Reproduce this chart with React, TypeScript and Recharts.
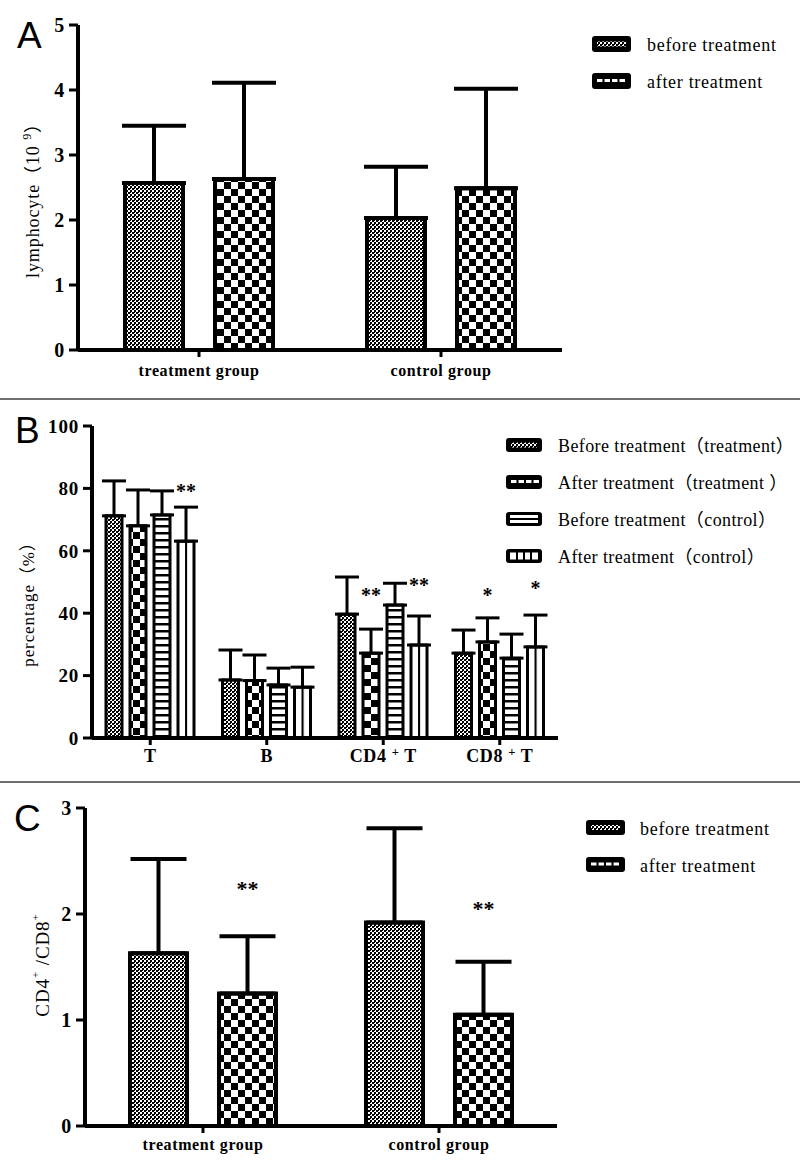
import React from 'react';
import { Bar, BarChart, ErrorBar, LabelList, Legend, XAxis, YAxis } from 'recharts';

const SERIF = '"Liberation Serif", "Times New Roman", "Noto Sans CJK SC", serif';
const SANS = '"Liberation Sans", Arial, sans-serif';

// A: lymphocyte counts (10^9)
const groupsA = ['treatment group', 'control group'];
const lymphBefore = [2.57, 2.03];
const lymphBeforeErr = [0.88, 0.79];
const lymphAfter = [2.63, 2.49];
const lymphAfterErr = [1.48, 1.53];
const ticksA = [0, 1, 2, 3, 4, 5];

// B: lymphocyte subsets (%)
const cellTypes = ['T', 'B', 'CD4+T', 'CD8+T'];
const beforeTreat = [71.2, 18.6, 39.7, 27.2];
const beforeTreatErr = [11.2, 9.6, 11.9, 7.4];
const afterTreat = [68.0, 18.4, 27.2, 30.8];
const afterTreatErr = [11.5, 8.2, 7.7, 7.7];
const beforeCtrl = [71.5, 17.0, 42.6, 25.6];
const beforeCtrlErr = [7.7, 5.4, 7.0, 7.7];
const afterCtrl = [63.1, 16.3, 29.8, 29.2];
const afterCtrlErr = [10.9, 6.4, 9.3, 10.2];
const sigAfterTreat = ['', '', '**', '*'];
const sigAfterTreatPos = [0, 0, 46.5, 46.5];
const sigAfterCtrl = ['**', '', '**', '*'];
const sigAfterCtrlPos = [79.8, 0, 49.7, 48.7];
const ticksB = [0, 20, 40, 60, 80, 100];

// C: CD4+/CD8+ ratio
const groupsC = ['treatment group', 'control group'];
const ratioBefore = [1.63, 1.92];
const ratioBeforeErr = [0.89, 0.89];
const ratioAfter = [1.25, 1.05];
const ratioAfterErr = [0.54, 0.5];
const sigRatioAfter = ['**', '**'];
const sigRatioAfterPos = [2.27, 2.08];
const ticksC = [0, 1, 2, 3];

const legendA = [
  { kind: 'fine', label: 'before treatment' },
  { kind: 'checker', label: 'after treatment' },
];
const legendB = [
  { kind: 'fine', label: 'Before treatment（treatment）' },
  { kind: 'checker', label: 'After treatment（treatment ）' },
  { kind: 'hstripe', label: 'Before treatment（control）' },
  { kind: 'vstripe', label: 'After treatment（control）' },
];

const dataA = groupsA.map((name, i) => ({
  name,
  before: lymphBefore[i],
  beforeErr: [0, lymphBeforeErr[i]],
  after: lymphAfter[i],
  afterErr: [0, lymphAfterErr[i]],
}));

const dataB = cellTypes.map((name, i) => ({
  name,
  bt: beforeTreat[i],
  btErr: [0, beforeTreatErr[i]],
  at: afterTreat[i],
  atErr: [0, afterTreatErr[i]],
  atSig: sigAfterTreat[i],
  bc: beforeCtrl[i],
  bcErr: [0, beforeCtrlErr[i]],
  ac: afterCtrl[i],
  acErr: [0, afterCtrlErr[i]],
  acSig: sigAfterCtrl[i],
}));

const dataC = groupsC.map((name, i) => ({
  name,
  before: ratioBefore[i],
  beforeErr: [0, ratioBeforeErr[i]],
  after: ratioAfter[i],
  afterErr: [0, ratioAfterErr[i]],
  afterSig: sigRatioAfter[i],
}));

const fills: Record<string, string> = {
  fine: 'url(#pat-fine)',
  checker: 'url(#pat-checker)',
  hstripe: 'url(#pat-hstripe)',
  vstripe: 'url(#pat-vstripe)',
};

const Patterns = () => (
  <svg width={0} height={0} style={{ position: 'absolute' }}>
    <defs>
      <pattern id="pat-fine" width={4} height={4} patternUnits="userSpaceOnUse">
        <rect width={4} height={4} fill="#fff" />
        <rect width={2} height={2} fill="#000" />
        <rect x={2} y={2} width={2} height={2} fill="#000" />
        <rect x={2} y={0} width={1} height={1} fill="#000" />
      </pattern>
      <pattern id="pat-checker" width={14} height={14} patternUnits="userSpaceOnUse">
        <rect width={14} height={14} fill="#fff" />
        <rect width={7} height={7} fill="#000" />
        <rect x={7} y={7} width={7} height={7} fill="#000" />
      </pattern>
      <pattern id="pat-hstripe" width={7} height={7} patternUnits="userSpaceOnUse">
        <rect width={7} height={7} fill="#fff" />
        <rect width={7} height={2.5} fill="#000" />
      </pattern>
      <pattern id="pat-vstripe" width={1} height={1} patternUnits="objectBoundingBox" patternContentUnits="objectBoundingBox">
        <rect width={1} height={1} fill="#fff" />
        <rect x={0.44} width={0.13} height={1} fill="#000" />
      </pattern>
    </defs>
  </svg>
);

const Swatch = ({ kind, w, h }: { kind: string; w: number; h: number }) => {
  const inner = [];
  if (kind === 'fine') {
    inner.push(<rect key="f" x={5} y={h / 2 - 2.5} width={w - 10} height={5} fill="url(#pat-fine)" />);
  } else if (kind === 'checker') {
    for (let i = 0; i < 4; i++) {
      inner.push(<rect key={i} x={5 + i * 7.5} y={h / 2 - 2} width={5.5} height={3} fill="#fff" />);
    }
  } else if (kind === 'hstripe') {
    inner.push(<rect key="w" x={4} y={3} width={w - 8} height={h - 6} fill="#fff" />);
    inner.push(<rect key="l" x={4} y={h / 2 - 1} width={w - 8} height={2} fill="#000" />);
  } else {
    inner.push(<rect key="w" x={4} y={3.5} width={w - 8} height={h - 7} fill="#fff" />);
    for (let i = 1; i < 4; i++) {
      inner.push(<rect key={i} x={4 + (i * (w - 8)) / 4 - 1} y={3} width={2} height={h - 6} fill="#000" />);
    }
  }
  return (
    <g>
      <rect width={w} height={h} rx={3} fill="#000" />
      {inner}
    </g>
  );
};

const LegendBox = ({ items, gap, sw, sh, textX, base, fontSize, spacing }: any) => (
  <svg width={260} height={gap * items.length + 10} style={{ overflow: 'visible' }}>
    {items.map((it: any, i: number) => (
      <g key={it.label} transform={`translate(0, ${i * gap})`}>
        <Swatch kind={it.kind} w={sw} h={sh} />
        <text x={textX} y={base} fontFamily={SERIF} fontSize={fontSize} fill="#000" letterSpacing={spacing}>
          {it.label}
        </text>
      </g>
    ))}
  </svg>
);

const CatTick = (props: any) => {
  const { x, y, payload, fontSize } = props;
  const label = String(payload.value);
  const parts = label.split('+');
  return (
    <text x={x} y={y} dy="0.71em" textAnchor="middle" fontFamily={SERIF} fontWeight="bold" fontSize={fontSize} fill="#000" letterSpacing={0.6}>
      {parts.length === 2 ? (
        <>
          <tspan>{parts[0]} </tspan>
          <tspan dy={-6} fontSize={fontSize * 0.7}>+</tspan>
          <tspan dy={6}> {parts[1]}</tspan>
        </>
      ) : (
        label
      )}
    </text>
  );
};

const SigLabel = (props: any) => {
  const vb = props.viewBox ?? props;
  const { x, y, width, height } = vb;
  const { value, index, pos, vals, fontSize } = props;
  if (!value) return null;
  const base = y + height;
  const k = height / vals[index];
  const cy = base - pos[index] * k;
  return (
    <text x={x + width / 2} y={cy + fontSize * 0.47} textAnchor="middle" fontFamily={SERIF} fontWeight="bold" fontSize={fontSize} fill="#000">
      {value}
    </text>
  );
};

const AxisTitle = ({ cx, cy, fontSize, children }: any) => (
  <text
    x={cx}
    y={cy}
    transform={`rotate(-90, ${cx}, ${cy})`}
    textAnchor="middle"
    dominantBaseline="central"
    fontFamily={SERIF}
    fontSize={fontSize}
    fill="#000"
    letterSpacing={0.9}
  >
    {children}
  </text>
);

const yTick = (fontSize: number) => ({ fontFamily: SERIF, fontWeight: 'bold', fontSize, fill: '#000', letterSpacing: 0.8 });
const axisLine = { stroke: '#000', strokeWidth: 4 };
const tickLine = { stroke: '#000', strokeWidth: 3 };

export default function App() {
  return (
    <div style={{ position: 'absolute', left: 0, top: 0, width: 800, height: 1175, background: '#fff', overflow: 'hidden' }}>
      <Patterns />

      {/* A */}
      <div style={{ position: 'absolute', left: 0, top: 0 }}>
        <BarChart width={800} height={399} data={dataA} barGap={32} margin={{ top: 25, right: 238, bottom: 19, left: 18 }}>
          <XAxis dataKey="name" height={30} axisLine={axisLine} tickLine={tickLine} tickSize={7} tickMargin={8} tick={<CatTick fontSize={16} />} interval={0} />
          <YAxis
            width={60}
            domain={[0, 5]}
            ticks={ticksA}
            interval={0}
            axisLine={axisLine}
            tickLine={tickLine}
            tickSize={9}
            tickMargin={4}
            tick={yTick(20)}
            label={
              <AxisTitle cx={33} cy={196} fontSize={18}>
                lymphocyte（10 <tspan dy={-6} fontSize={12}>9</tspan>
                <tspan dy={6}>）</tspan>
              </AxisTitle>
            }
          />
          <Legend
            verticalAlign="middle"
            wrapperStyle={{ left: 592, top: 36, width: 260 }}
            content={() => <LegendBox items={legendA} gap={37} sw={39} sh={16} textX={55} base={15} fontSize={18} spacing={0.7} />}
          />
          <Bar dataKey="before" fill={fills.fine} stroke="#000" strokeWidth={4} barSize={58} isAnimationActive={false}>
            <ErrorBar dataKey="beforeErr" direction="y" width={32} stroke="#000" strokeWidth={4} />
          </Bar>
          <Bar dataKey="after" fill={fills.checker} stroke="#000" strokeWidth={4} barSize={58} isAnimationActive={false}>
            <ErrorBar dataKey="afterErr" direction="y" width={32} stroke="#000" strokeWidth={4} />
          </Bar>
        </BarChart>
      </div>

      {/* B */}
      <div style={{ position: 'absolute', left: 0, top: 399 }}>
        <BarChart width={800} height={383} data={dataB} barGap={8} margin={{ top: 27, right: 242, bottom: 14, left: 32 }}>
          <XAxis dataKey="name" height={30} axisLine={axisLine} tickLine={tickLine} tickSize={7} tickMargin={4} tick={<CatTick fontSize={18} />} interval={0} />
          <YAxis
            width={60}
            domain={[0, 100]}
            ticks={ticksB}
            interval={0}
            axisLine={axisLine}
            tickLine={tickLine}
            tickSize={9}
            tickMargin={4}
            tick={yTick(19)}
            label={<AxisTitle cx={28} cy={201} fontSize={17}>percentage（%）</AxisTitle>}
          />
          <Legend
            verticalAlign="middle"
            wrapperStyle={{ left: 506, top: 39, width: 290 }}
            content={() => <LegendBox items={legendB} gap={37} sw={36} sh={14} textX={52} base={14} fontSize={18} spacing={0.4} />}
          />
          <Bar dataKey="bt" fill={fills.fine} stroke="#000" strokeWidth={3} barSize={16} isAnimationActive={false}>
            <ErrorBar dataKey="btErr" direction="y" width={12} stroke="#000" strokeWidth={3} />
          </Bar>
          <Bar dataKey="at" fill={fills.checker} stroke="#000" strokeWidth={3} barSize={16} isAnimationActive={false}>
            <ErrorBar dataKey="atErr" direction="y" width={12} stroke="#000" strokeWidth={3} />
            <LabelList dataKey="atSig" content={<SigLabel pos={sigAfterTreatPos} vals={afterTreat} fontSize={20} />} />
          </Bar>
          <Bar dataKey="bc" fill={fills.hstripe} stroke="#000" strokeWidth={3} barSize={16} isAnimationActive={false}>
            <ErrorBar dataKey="bcErr" direction="y" width={12} stroke="#000" strokeWidth={3} />
          </Bar>
          <Bar dataKey="ac" fill={fills.vstripe} stroke="#000" strokeWidth={3} barSize={16} isAnimationActive={false}>
            <ErrorBar dataKey="acErr" direction="y" width={12} stroke="#000" strokeWidth={3} />
            <LabelList dataKey="acSig" content={<SigLabel pos={sigAfterCtrlPos} vals={afterCtrl} fontSize={20} />} />
          </Bar>
        </BarChart>
      </div>

      {/* C */}
      <div style={{ position: 'absolute', left: 0, top: 782 }}>
        <BarChart width={800} height={393} data={dataC} barGap={32} margin={{ top: 26, right: 243, bottom: 19, left: 25 }}>
          <XAxis dataKey="name" height={30} axisLine={axisLine} tickLine={tickLine} tickSize={7} tickMargin={6} tick={<CatTick fontSize={16} />} interval={0} />
          <YAxis
            width={60}
            domain={[0, 3]}
            ticks={ticksC}
            interval={0}
            axisLine={axisLine}
            tickLine={tickLine}
            tickSize={9}
            tickMargin={4}
            tick={yTick(20)}
            label={
              <AxisTitle cx={42} cy={183} fontSize={19}>
                CD4<tspan dy={-7} fontSize={11}>+</tspan>
                <tspan dy={7}> /CD8</tspan>
                <tspan dy={-7} fontSize={11}>+</tspan>
              </AxisTitle>
            }
          />
          <Legend
            verticalAlign="middle"
            wrapperStyle={{ left: 586, top: 38, width: 260 }}
            content={() => <LegendBox items={legendA} gap={37} sw={39} sh={15} textX={54} base={15} fontSize={18} spacing={0.7} />}
          />
          <Bar dataKey="before" fill={fills.fine} stroke="#000" strokeWidth={4} barSize={57} isAnimationActive={false}>
            <ErrorBar dataKey="beforeErr" direction="y" width={28} stroke="#000" strokeWidth={4} />
          </Bar>
          <Bar dataKey="after" fill={fills.checker} stroke="#000" strokeWidth={4} barSize={57} isAnimationActive={false}>
            <ErrorBar dataKey="afterErr" direction="y" width={28} stroke="#000" strokeWidth={4} />
            <LabelList dataKey="afterSig" content={<SigLabel pos={sigRatioAfterPos} vals={ratioAfter} fontSize={22} />} />
          </Bar>
        </BarChart>
      </div>

      {/* panel letters and separators */}
      <svg width={800} height={1175} style={{ position: 'absolute', left: 0, top: 0, pointerEvents: 'none' }}>
        <rect x={0} y={398} width={800} height={2} fill="#6e6e6e" />
        <rect x={0} y={781} width={800} height={2} fill="#6e6e6e" />
        <text x={17} y={48} fontFamily={SANS} fontSize={37} fill="#000">A</text>
        <text x={15} y={443} fontFamily={SANS} fontSize={37} fill="#000">B</text>
        <text x={14} y={831} fontFamily={SANS} fontSize={37} fill="#000">C</text>
      </svg>
    </div>
  );
}
